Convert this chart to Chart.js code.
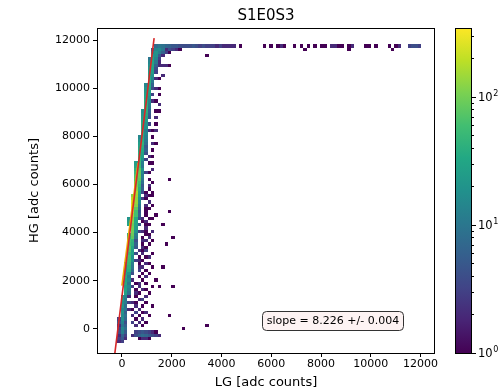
<!DOCTYPE html>
<html>
<head>
<meta charset="utf-8">
<script src="https://cdn.jsdelivr.net/npm/chart.js@4.4.1/dist/chart.umd.min.js"></script>
<style>
  html, body { margin: 0; padding: 0; background: #fff; }
</style>
</head>
<body>
<canvas id="chart" width="502" height="391"></canvas>
<script>
// histogram range (100 x 100 bins, like hist2d)
const xRange = [-1000, 12580];
const yRange = [-1000, 12500];
const nBins = 100;
const countMax = 345;

const xTicks = [0, 2000, 4000, 6000, 8000, 10000, 12000];
const yTicks = [0, 2000, 4000, 6000, 8000, 10000, 12000];
const cbTicks = [1, 10, 100];

// dense band: [yBin, first xBin, counts...]
const bandRows = [
  [3,6,2,3],[4,6,3,5,2],[4,12,1,2,2,1],
  [5,6,2,6,3],[5,10,2,4,6,8,7,5,4,3,2],[6,6,4,12,5],[6,11,3,4,5,4,3,2,1],
  [7,6,3,15,8],[8,6,2,10,6],[9,6,5,14,4],[10,6,3,18,7],
  [11,7,16,9],[12,7,20,6],[13,7,14,10,2],[14,7,22,8],[15,7,18,12,3],[16,7,25,10],
  [17,7,20,14,2],[18,8,28,9],[19,8,30,12],[20,8,26,15,3],[21,8,35,10],[22,8,30,16,2],
  [23,8,38,12],[24,8,32,20,4],[25,8,20,40,8],[26,8,18,45,10],[27,8,22,50,12],
  [28,9,55,20,3],[29,9,60,18],[30,9,48,30,4],[31,9,65,25],[32,9,70,30,5],[33,9,55,40,6],
  [34,9,60,45,4],[35,9,40,80,10],[36,9,35,90,12],[37,10,95,20,3],[38,10,100,25],
  [39,9,30,90,30,5],[40,9,25,110,30],[41,9,20,120,35,4],[42,10,140,60,6],[43,10,220,60,5],
  [44,10,280,80,8],[45,10,340,120,10],[46,10,250,140,15],[47,10,180,130,20,3],[48,10,120,150,25],
  [49,11,160,30,4],[50,11,120,40,6],[51,11,100,50,5],[52,11,90,60,8],[53,11,70,80,10],
  [54,11,60,90,12],[55,11,50,85,15,3],[56,11,40,80,20],[57,11,30,60,10],[58,11,25,55,12],
  [59,12,50,20,3],[60,12,45,25],[61,12,40,30,4],[62,12,35,35,6],[63,12,30,40,5],
  [64,12,25,45,8],[65,12,20,40,10],[66,12,15,38,12],[67,13,40,15],[68,13,45,12,2],
  [69,13,38,18],[70,13,35,20,3],[71,13,30,25],[72,13,25,30,4],[73,13,22,35,5],
  [74,13,18,40,6],[75,14,42,10],[76,14,40,12],[77,14,36,15,2],[78,14,30,20],
  [79,14,28,25,3],[80,14,24,30],[81,14,20,35,4],[82,14,15,38,6],[83,15,40,10],
  [84,15,36,14,2],[85,15,30,20],[86,15,26,26,3],[87,15,22,30,4],[88,15,18,32,6],
  [89,15,14,30,10,2],[90,15,10,28,14,3],[91,16,22,18,5,2],[92,16,12,20,12,6,3],
  [93,16,6,14,16,10,6,4,3,2],
  [94,17,8,10,9,7,6,5,5,4,4,4,4,5,4,3,4,3,3,3,2,3,2,2,2,2]
];

// isolated cells: [xBin, yBin, count]
const looseCells = [
  [11,8,2],[13,8,1],[10,9,3],[12,9,2],[14,9,1],[11,10,1],[13,10,2],[10,11,2],[12,11,1],
  [15,11,1],[21,11,1],[11,12,3],[13,12,1],[14,12,2],[10,13,1],[12,13,2],[11,14,2],
  [13,14,1],[16,14,1],[10,15,2],[11,15,1],[14,15,1],[12,16,2],[13,16,3],[11,17,1],
  [14,17,2],[11,18,2],[12,18,1],[15,18,1],[11,19,1],[13,19,2],[14,19,1],[12,20,2],
  [16,20,1],[18,20,1],[22,20,1],[11,21,1],[12,21,2],[14,21,1],[13,22,1],[17,22,1],
  [12,23,1],[14,23,2],[13,24,1],[15,24,1],[12,25,3],[14,25,1],[12,26,2],[13,26,2],
  [16,26,1],[19,26,1],[12,27,1],[14,27,2],[15,27,1],[12,28,2],[13,28,1],[12,29,1],
  [14,29,1],[15,29,2],[13,30,2],[16,30,1],[12,31,2],[13,31,1],[14,31,3],[13,32,2],
  [14,32,1],[13,33,1],[15,33,1],[20,33,1],[13,34,2],[14,34,2],[16,34,1],[13,35,1],
  [15,35,2],[22,35,1],[14,36,1],[15,36,1],[13,37,2],[14,37,1],[16,37,2],[14,38,2],
  [14,39,1],[15,39,1],[19,39,1],[13,40,1],[14,40,2],[13,41,2],[15,41,1],[16,41,1],
  [14,42,1],[17,42,1],[14,43,1],[21,43,1],[14,44,1],[15,44,1],[14,45,2],[16,45,1],
  [15,46,2],[14,47,1],[14,48,2],[15,48,1],[16,48,1],[14,49,1],[16,49,1],[15,50,1],
  [15,51,2],[16,52,1],[15,53,1],[21,53,1],[15,55,1],[16,56,2],[15,58,1],[16,58,1],
  [15,60,2],[16,60,1],[16,62,1],[16,64,2],[17,64,1],[16,66,1],[16,68,1],[17,68,2],
  [17,70,1],[17,72,2],[17,74,1],[18,74,1],[17,77,1],[18,76,2],[18,79,1],[17,81,2],
  [18,81,1],[18,84,1],[19,85,2],[18,88,2],[19,88,2],[20,88,2],[21,88,1],
  [25,7,1],[32,8,1],[32,91,1],[20,93,2],[24,93,1],[21,92,1],
  [42,94,1],[49,94,1],[51,94,1],[53,94,1],[54,94,2],[55,94,1],[58,94,1],[60,94,1],
  [61,93,1],[62,94,1],[64,94,1],[66,94,1],[67,94,1],[69,94,2],[70,94,2],[71,94,1],
  [72,94,1],[74,94,1],[75,94,2],[74,93,1],[79,94,1],[80,94,1],[82,94,1],[86,94,1],
  [87,93,1],[88,94,1],[89,94,2],[92,94,3],[93,94,4],[94,94,4],[95,94,3]
];

// fit lines
const fitX = [-281, 1295];
const fitY = [-1000, 12080];
const rangeX = [0, 650];
const rangeY = [1800, 6900];
const slopeText = "slope = 8.226 +/- 0.004";

const viridis = ["#440154","#482475","#414487","#355f8d","#2a788e","#21918c",
                 "#22a884","#42be71","#7ad151","#bddf26","#fde725"];

function hexRgb(h) {
  return [1, 3, 5].map(k => parseInt(h.slice(k, k + 2), 16));
}
function cmap(t) {
  t = Math.max(0, Math.min(1, t)) * (viridis.length - 1);
  const k = Math.min(Math.floor(t), viridis.length - 2);
  const f = t - k;
  const a = hexRgb(viridis[k]), b = hexRgb(viridis[k + 1]);
  return "rgb(" + a.map((v, n) => Math.round(v + (b[n] - v) * f)).join(",") + ")";
}
function colorFor(c) {
  return cmap(Math.log10(c) / Math.log10(countMax));
}

const cells = [];
bandRows.forEach(r => {
  r.slice(2).forEach((c, k) => cells.push([r[1] + k, r[0], c]));
});
looseCells.forEach(c => cells.push(c));

const binW = (xRange[1] - xRange[0]) / nBins;
const binH = (yRange[1] - yRange[0]) / nBins;

const heatmap = {
  id: "heatmap",
  beforeDatasetsDraw(chart) {
    const { ctx, chartArea: a, scales: { x, y } } = chart;
    ctx.save();
    ctx.beginPath();
    ctx.rect(a.left, a.top, a.right - a.left, a.bottom - a.top);
    ctx.clip();
    cells.forEach(([i, j, c]) => {
      const x0 = Math.round(x.getPixelForValue(xRange[0] + i * binW));
      const x1 = Math.round(x.getPixelForValue(xRange[0] + (i + 1) * binW));
      const y0 = Math.round(y.getPixelForValue(yRange[0] + j * binH));
      const y1 = Math.round(y.getPixelForValue(yRange[0] + (j + 1) * binH));
      ctx.fillStyle = colorFor(c);
      ctx.fillRect(x0, y1, x1 - x0, y0 - y1);
    });
    ctx.restore();
  },
  afterDraw(chart) {
    const { ctx, chartArea: a } = chart;
    ctx.save();
    // frame
    ctx.strokeStyle = "#000";
    ctx.lineWidth = 1;
    ctx.strokeRect(a.left + 0.5, a.top + 0.5, a.right - a.left - 1, a.bottom - a.top);

    // slope box
    const bx = a.left + 165, by = a.bottom - 42, bw = 141, bh = 19;
    ctx.beginPath();
    ctx.roundRect(bx + 0.5, by + 0.5, bw, bh, 4);
    ctx.fillStyle = "#fdf3f3";
    ctx.fill();
    ctx.strokeStyle = "#333";
    ctx.stroke();
    ctx.fillStyle = "#000";
    ctx.font = "11px 'DejaVu Sans'";
    ctx.textAlign = "center";
    ctx.textBaseline = "middle";
    ctx.fillText(slopeText, bx + bw / 2 + 0.5, by + bh / 2 + 1);

    // colorbar
    const cx = 455, cw = 17, top = a.top, bot = a.bottom;
    const g = ctx.createLinearGradient(0, bot, 0, top);
    viridis.forEach((col, k) => g.addColorStop(k / (viridis.length - 1), col));
    ctx.fillStyle = g;
    ctx.fillRect(cx, top, cw, bot - top);
    ctx.strokeStyle = "#000";
    ctx.strokeRect(cx + 0.5, top + 0.5, cw - 1, bot - top);
    const pos = v => bot - Math.log10(v) / Math.log10(countMax) * (bot - top);
    const minor = [2,3,4,5,6,7,8,9,20,30,40,50,60,70,80,90,200,300];
    ctx.beginPath();
    minor.forEach(v => {
      const p = Math.round(pos(v)) + 0.5;
      ctx.moveTo(cx + cw, p); ctx.lineTo(cx + cw + 2, p);
    });
    cbTicks.forEach(v => {
      const p = Math.round(pos(v)) + 0.5;
      ctx.moveTo(cx + cw, p); ctx.lineTo(cx + cw + 4, p);
    });
    ctx.stroke();
    ctx.fillStyle = "#000";
    ctx.textAlign = "left";
    ctx.textBaseline = "middle";
    cbTicks.forEach(v => {
      const p = pos(v);
      ctx.font = "11.5px 'DejaVu Sans'";
      ctx.fillText("10", cx + cw + 6, p + 1);
      const w = ctx.measureText("10").width;
      ctx.font = "8px 'DejaVu Sans'";
      ctx.fillText(String(Math.round(Math.log10(v))), cx + cw + 6 + w + 0.5, p - 3);
    });
    ctx.restore();
  }
};

Chart.defaults.font.family = "'DejaVu Sans'";
Chart.defaults.color = "#000";

new Chart(document.getElementById("chart"), {
  type: "scatter",
  data: {
    datasets: [
      {
        data: fitX.map((v, k) => ({ x: v, y: fitY[k] })),
        showLine: true,
        borderColor: "#d62728",
        borderWidth: 1.6,
        pointRadius: 0
      },
      {
        data: rangeX.map((v, k) => ({ x: v, y: rangeY[k] })),
        showLine: true,
        borderColor: "#f0b000",
        borderWidth: 1.6,
        pointRadius: 0
      }
    ]
  },
  options: {
    responsive: false,
    animation: false,
    layout: { padding: { left: 0, right: 67, top: 0, bottom: 0 } },
    plugins: {
      legend: { display: false },
      tooltip: { enabled: false },
      title: {
        display: true,
        text: "S1E0S3",
        fullSize: false,
        font: { size: 15, weight: "normal" },
        padding: { top: 7, bottom: 3 }
      }
    },
    scales: {
      x: {
        type: "linear",
        min: xRange[0],
        max: xRange[1],
        afterBuildTicks: s => { s.ticks = xTicks.map(v => ({ value: v })); },
        afterFit: s => { s.height = 38; },
        ticks: { font: { size: 11 }, padding: 1, maxRotation: 0, callback: v => String(v) },
        grid: { drawOnChartArea: false, tickLength: 4, color: "#000" },
        border: { display: false },
        title: { display: true, text: "LG [adc counts]", font: { size: 13 }, padding: { top: 0, bottom: 1 } }
      },
      y: {
        type: "linear",
        min: yRange[0],
        max: yRange[1],
        afterBuildTicks: s => { s.ticks = yTicks.map(v => ({ value: v })); },
        afterFit: s => { s.width = 97; },
        ticks: { font: { size: 11 }, padding: 3, callback: v => String(v) },
        grid: { drawOnChartArea: false, tickLength: 4, color: "#000" },
        border: { display: false },
        title: { display: true, text: "HG [adc counts]", font: { size: 13 }, padding: { top: 27, bottom: 0 } }
      }
    }
  },
  plugins: [heatmap]
});
</script>
</body>
</html>
